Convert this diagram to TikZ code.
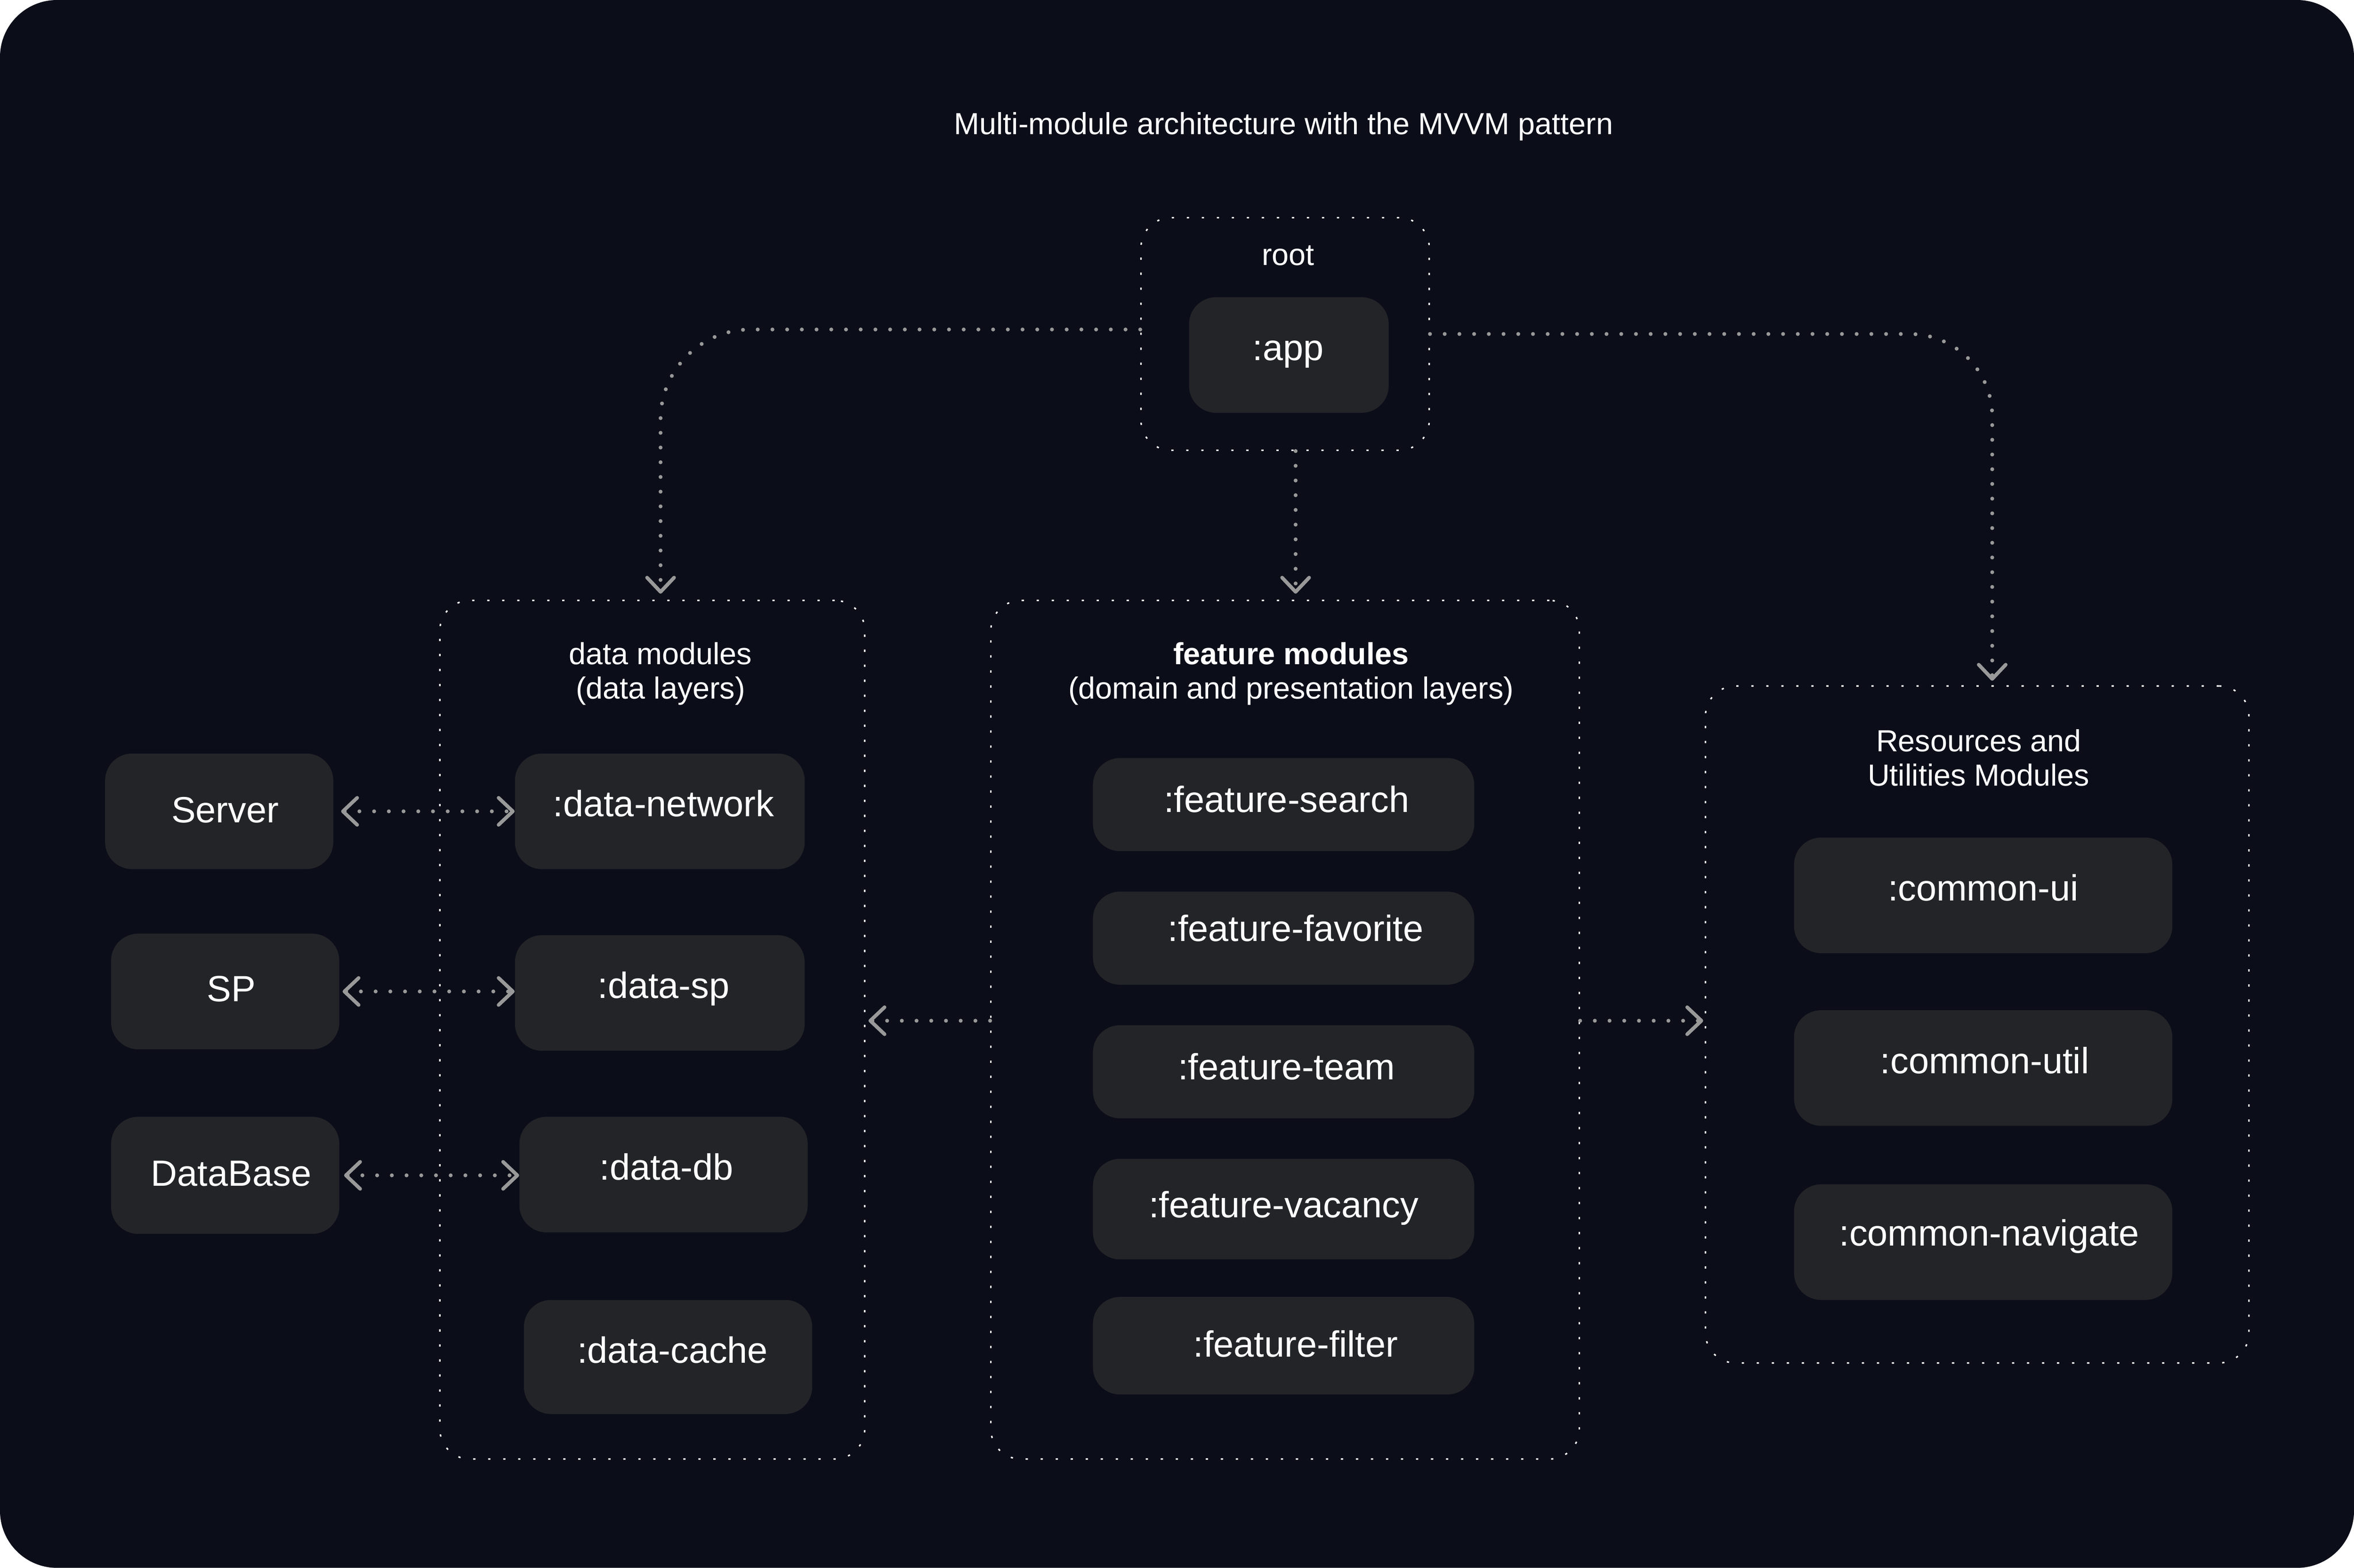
\documentclass[tikz,border=0pt]{standalone}
\usepackage{fontspec}
\setmainfont{Liberation Sans}
\usetikzlibrary{arrows.meta,fit,calc}
\definecolor{bgc}{HTML}{0B0E19}
\definecolor{boxc}{HTML}{232428}
\definecolor{linec}{HTML}{999999}
\tikzset{
  modbox/.style={fill=boxc, rounded corners=18pt, inner sep=0pt, draw=none},
  modtext/.style={text=white, font=\fontsize{24.3}{28}\selectfont, inner sep=0pt, anchor=center, text height=0.716em, text depth=0pt, yshift=-3.5pt},
  grouplabel/.style={text=white, font=\fontsize{20.3}{24}\selectfont, inner sep=0pt, anchor=center, text height=0.716em, text depth=0pt, yshift=-3pt},
  groupbox/.style={draw=white, line width=1pt, dash pattern=on 1.5pt off 8.5pt, rounded corners=20pt, inner sep=0pt},
  conn/.style={draw=linec, line width=2.6pt, line cap=round, dash pattern=on 0pt off 9.8pt,
    >={Straight Barb[length=9.5pt, width=18pt, line width=2.4pt, round]}},
}
\newcommand\modnode[8]{% name, x1, y1, x2, y2, text x, text y, text
  \node[modbox, fit={(#2,#3) (#4,#5)}] (#1) {};
  \node[modtext] (#1-t) at (#6,#7) {#8};}
\newcommand\groupnode[5]{% name, x1, y1, x2, y2
  \node[groupbox, fit={(#2,#3) (#4,#5)}] (#1) {};}
\begin{document}
\begin{tikzpicture}[x=1pt, y=-1pt]
  \useasboundingbox (0,0) rectangle (1568,1044.5);
  \fill[bgc, rounded corners=38pt] (0,0) rectangle (1568,1044.5);

  % title
  \node[grouplabel] (title) at (855,83) {Multi-module architecture with the MVVM pattern};

  % groups
  \groupnode{rootbox}{760}{145}{952}{300}
  \groupnode{datamods}{293}{400}{576}{972}
  \groupnode{featmods}{660}{400}{1052}{972}
  \groupnode{resmods}{1136}{457}{1498}{908}

  \node[grouplabel] (root-l) at (858,170) {root};
  \node[grouplabel] (data-l1) at (440,436) {data modules};
  \node[grouplabel] (data-l2) at (440,459) {(data layers)};
  \node[grouplabel] (feat-l1) at (860,436) {\bfseries feature modules};
  \node[grouplabel] (feat-l2) at (860,459) {(domain and presentation layers)};
  \node[grouplabel] (res-l1) at (1318,494) {Resources and};
  \node[grouplabel] (res-l2) at (1318,517) {Utilities Modules};

  % modules
  \modnode{app}{792}{198}{925}{275}{858}{233}{:app}
  \modnode{server}{70}{502}{222}{579}{150}{541}{Server}
  \modnode{sp}{74}{622}{226}{699}{154}{660}{SP}
  \modnode{database}{74}{744}{226}{822}{154}{783}{DataBase}
  \modnode{datanet}{343}{502}{536}{579}{442}{537}{:data-network}
  \modnode{datasp}{343}{623}{536}{700}{442}{658}{:data-sp}
  \modnode{datadb}{346}{744}{538}{821}{444}{779}{:data-db}
  \modnode{datacache}{349}{866}{541}{942}{448}{901}{:data-cache}
  \modnode{fsearch}{728}{505}{982}{567}{857}{534}{:feature-search}
  \modnode{ffav}{728}{594}{982}{656}{863}{620}{:feature-favorite}
  \modnode{fteam}{728}{683}{982}{745}{857}{712}{:feature-team}
  \modnode{fvac}{728}{772}{982}{839}{855}{804}{:feature-vacancy}
  \modnode{ffilter}{728}{864}{982}{929}{863}{897}{:feature-filter}
  \modnode{cui}{1195}{558}{1447}{635}{1321}{593}{:common-ui}
  \modnode{cutil}{1195}{673}{1447}{750}{1322}{708}{:common-util}
  \modnode{cnav}{1195}{789}{1447}{866}{1325}{823}{:common-navigate}

  % connectors
  \coordinate (midrow) at (0,680);
  \draw[conn, ->, rounded corners=60pt] ([yshift=3pt]rootbox.west) -| ([xshift=5.5pt,yshift=4pt]datamods.north);
  \draw[conn, ->, rounded corners=55pt] (rootbox.east) -| ([xshift=10pt,yshift=3pt]resmods.north);
  \draw[conn, ->] ([xshift=7pt]rootbox.south) -- ([xshift=7pt,yshift=4pt]featmods.north);
  \draw[conn, ->] (featmods.west |- midrow) -- ([xshift=2pt]datamods.east |- midrow);
  \draw[conn, ->] (featmods.east |- midrow) -- ([xshift=-1pt]resmods.west |- midrow);
  \draw[conn, <->] ([xshift=5pt]server.east) -- (server.east -| datanet.west);
  \draw[conn, <->] ([xshift=2pt]sp.east) -- (sp.east -| datasp.west);
  \draw[conn, <->] ([xshift=3pt]database.east) -- (database.east -| datadb.west);
\end{tikzpicture}
\end{document}
